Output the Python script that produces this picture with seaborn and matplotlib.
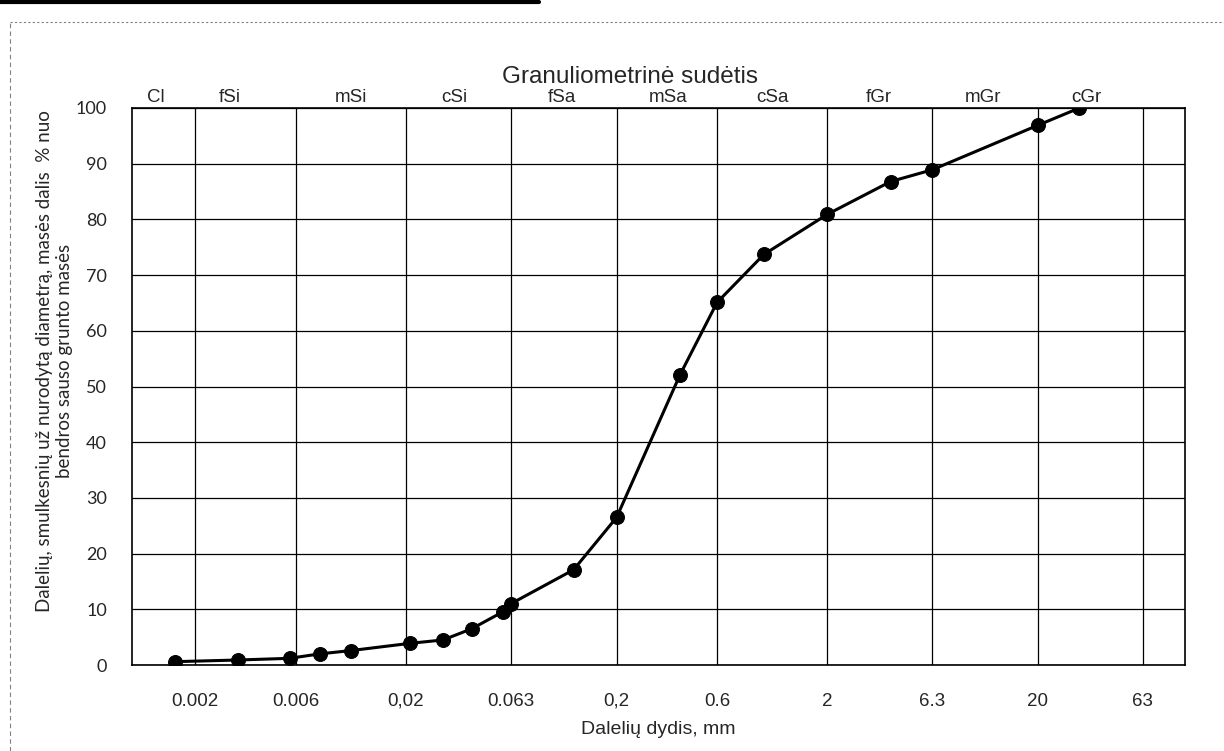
import matplotlib
matplotlib.use('Agg')
import matplotlib.pyplot as plt
import seaborn as sns
import pandas as pd
from matplotlib.lines import Line2D

sns.set_theme(style='white')
plt.rcParams['font.family'] = ['Liberation Sans', 'DejaVu Sans']

# grain size (mm) vs cumulative passing (%)
size_mm = [0.0016, 0.0032, 0.0056, 0.0078, 0.011, 0.021, 0.030, 0.041, 0.058, 0.063,
           0.125, 0.2, 0.4, 0.6, 1.0, 2.0, 4.0, 6.3, 20, 31.5]
passing = [0.6, 0.9, 1.2, 2.0, 2.6, 3.9, 4.5, 6.5, 9.6, 11.0,
           17.1, 26.5, 52.1, 65.1, 73.7, 80.9, 86.8, 88.9, 96.9, 100]

# fraction boundaries (x grid) and their labels
bounds = [0.002, 0.006, 0.02, 0.063, 0.2, 0.6, 2, 6.3, 20, 63]
bound_labels = ['0.002', '0.006', '0,02', '0.063', '0,2', '0.6', '2', '6.3', '20', '63']
classes = ['Cl', 'fSi', 'mSi', 'cSi', 'fSa', 'mSa', 'cSa', 'fGr', 'mGr', 'cGr']
class_pos = [0.0013, 0.0029, 0.011, 0.034, 0.11, 0.35, 1.1, 3.5, 11, 34]
y_ticks = list(range(0, 101, 10))

df = pd.DataFrame({'d': size_mm, 'p': passing})

fig = plt.figure(figsize=(12.24, 7.51), dpi=100)
ax = fig.add_axes([0.1078, 0.1145, 0.8604, 0.7417])

sns.lineplot(data=df, x='d', y='p', sort=False, color='black', linewidth=2.2,
             marker='o', markersize=10, markeredgecolor='black', ax=ax)

ax.set_xscale('log')
ax.set_xlim(0.001, 100)
ax.set_ylim(0, 100)
ax.set_xticks(bounds)
ax.set_xticklabels(bound_labels)
ax.minorticks_off()
ax.set_yticks(y_ticks)
ax.tick_params(axis='x', length=0, pad=20, labelsize=13.5)
ax.tick_params(axis='y', length=0, pad=18, labelsize=13)
for lbl in ax.get_yticklabels():
    lbl.set_family(['Lato', 'DejaVu Sans'])

ax.grid(True, which='major', color='black', linewidth=0.9)
for s in ax.spines.values():
    s.set_color('black')
    s.set_linewidth(1.2)

ax.set_xlabel('Dalelių dydis, mm', fontsize=14, labelpad=8)
ax.set_ylabel('Dalelių, smulkesnių už nurodytą diametrą, masės dalis  % nuo\nbendros sauso grunto masės',
              fontsize=13.5, family=['Lato', 'DejaVu Sans'], linespacing=1.2)
ax.yaxis.set_label_coords(-0.056, 0.546)

# soil fraction names above the plot
for name, xpos in zip(classes, class_pos):
    ax.text(xpos, 101.8, name, ha='center', va='center', fontsize=13.5)

fig.text(0.515, 0.898, 'Granuliometrinė sudėtis', ha='center', va='center', fontsize=17.5)

# scanned page frame
fig.add_artist(Line2D([0.008, 1.0], [0.971, 0.971], color='gray', linewidth=0.8, linestyle=(0, (2, 2))))
fig.add_artist(Line2D([0.008, 0.008], [0.0, 0.971], color='gray', linewidth=0.8, linestyle=(0, (4, 3))))
fig.add_artist(Line2D([0.0, 0.44], [0.997, 0.997], color='black', linewidth=3))

fig.savefig('out.png', dpi=100)
